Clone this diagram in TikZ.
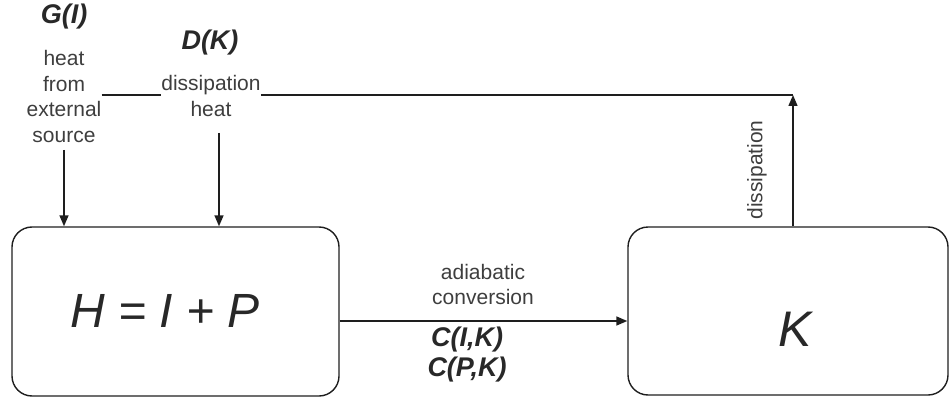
\documentclass[tikz,border=0pt]{standalone}
\usepackage{fontspec}
\setmainfont{Liberation Sans}
\usetikzlibrary{arrows.meta}
\definecolor{txt}{RGB}{62,62,62}
\definecolor{btxt}{RGB}{40,40,40}
\definecolor{ln}{RGB}{30,30,30}
\begin{document}
\begin{tikzpicture}[x=1pt,y=-1pt,
  boxbase/.style={draw=ln, line width=1.4pt, rounded corners=20pt, inner sep=0pt},
  hbox/.style={boxbase, minimum width=327pt, minimum height=169pt},
  kbox/.style={boxbase, minimum width=320pt, minimum height=168pt},
  lbl/.style={font=\fontsize{21}{25.7}\selectfont, text=txt, align=center, inner sep=0pt},
  blbl/.style={font=\fontsize{27}{30}\selectfont\bfseries\itshape, text=btxt, align=center, inner sep=0pt},
  bigt/.style={text=btxt, inner sep=0pt},
  conn/.style={draw=ln, line width=1.4pt},
  arr/.style={conn, -{Triangle[length=11pt,width=9pt]}}
]
\useasboundingbox (0,0) rectangle (949,398);

\node[hbox] (H) at (175.5,311.5) {};
\node[kbox] (K) at (788,311) {};
\node[bigt, font=\fontsize{48}{50}\selectfont\itshape] (Ht) at (165,311) {H = I + P};
\node[bigt, font=\fontsize{50}{52}\selectfont\itshape] (Kt) at (795,329) {K};

\node[blbl] (G) at (64,17) {G(I)};
\node[lbl] (gsrc) at (64,96.5) {heat\\from\\external\\source};
\node[blbl] (D) at (210,43) {D(K)};
\node[lbl] (dheat) at (211,96) {dissipation\\heat};
\node[lbl] (ad) at (483,284.5) {adiabatic\\conversion};
\node[blbl] (C) at (467,355) {C(I,K)\\C(P,K)};
\node[lbl, rotate=90] (dis) at (757,170) {dissipation};

\coordinate (corner) at (793,95);
\coordinate (dstart) at (219,133);
\coordinate (hy) at (0,321);

\draw[conn] (gsrc.east |- corner) -- (dheat.west |- corner);
\draw[conn] (dheat.east |- corner) -- (corner);
\draw[arr] (corner |- K.north) -- (corner);
\draw[arr, shorten <=7pt] (gsrc.south) -- (gsrc.south |- H.north);
\draw[arr] (dstart) -- (dstart |- H.north);
\draw[arr] (H.east |- hy) -- (K.west |- hy);
\end{tikzpicture}
\end{document}
